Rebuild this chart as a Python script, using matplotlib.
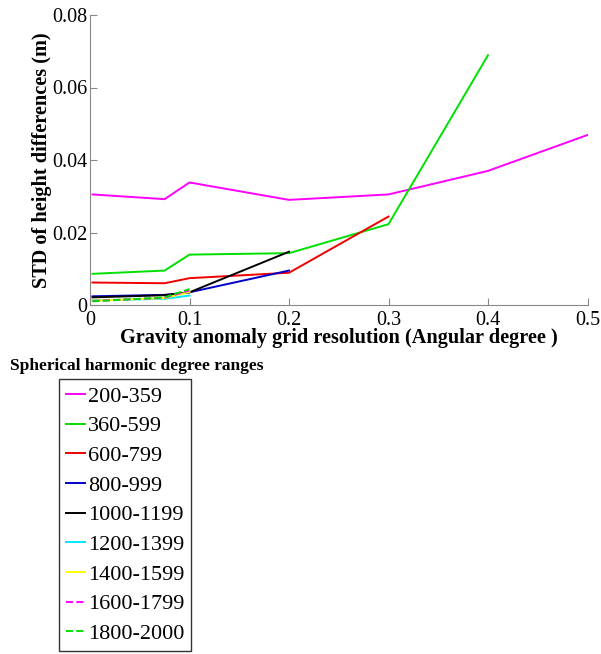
import numpy as np
import matplotlib
matplotlib.use("Agg")
import matplotlib.pyplot as plt

# grid resolution (deg) and STD of height differences (m) per degree range
res = [0.0025, 0.075, 0.1, 0.2, 0.3, 0.4, 0.5]

std_200_359 = [0.0305, 0.0292, 0.0338, 0.0290, 0.0305, 0.0370, 0.0469]
std_360_599 = [0.0086, 0.0095, 0.0139, 0.0143, 0.0223, 0.0689]
std_600_799 = [0.0062, 0.0060, 0.0074, 0.0089, 0.0244]
std_800_999 = [0.0024, 0.0028, 0.0035, 0.0095]
std_1000_1199 = [0.0021, 0.0027, 0.0035, 0.0147]
std_1200_1399 = [0.0013, 0.0017, 0.0026]
std_1400_1599 = [0.0012, 0.0019, 0.0036]
std_1600_1799 = [0.0011, 0.0020, 0.0040]
std_1800_2000 = [0.0010, 0.0021, 0.0044]

labels = ["200-359", "360-599", "600-799", "800-999", "1000-1199",
          "1200-1399", "1400-1599", "1600-1799", "1800-2000"]
series = [std_200_359, std_360_599, std_600_799, std_800_999, std_1000_1199,
          std_1200_1399, std_1400_1599, std_1600_1799, std_1800_2000]
colors = ["#ff00ff", "#00e000", "#ee0000", "#0000cc", "#000000",
          "#00e8ff", "#ffff00", "#ff00ff", "#00e000"]
styles = ["-", "-", "-", "-", "-", "-", "-", "--", "--"]

plt.rcParams["font.family"] = ["Liberation Serif", "DejaVu Serif"]

fig = plt.figure(figsize=(6.01, 6.54), dpi=100)
ax = fig.add_axes([90/601, 1-305/654, (587.5-90)/601, (305-15)/654])

for s, lab, c, ls in zip(series, labels, colors, styles):
    ax.plot(res[:len(s)], s, color=c, linestyle=ls, linewidth=1.4, label=lab)

ax.set_xlim(0, 0.5)
ax.set_ylim(0, 0.08)
ax.set_xticks([0, 0.1, 0.2, 0.3, 0.4, 0.5])
ax.set_xticklabels(["0", "0.1", "0.2", "0.3", "0.4", "0.5"])
ax.set_yticks([0, 0.02, 0.04, 0.06, 0.08])
ax.set_yticklabels(["0", "0.02", "0.04", "0.06", "0.08"])
ax.tick_params(direction="in", length=5, labelsize=14.5, color="#888888")
ax.tick_params(axis="x", pad=4)
ax.tick_params(axis="y", pad=2)
for side in ["top", "right"]:
    ax.spines[side].set_visible(False)
for side in ["left", "bottom"]:
    ax.spines[side].set_color("#888888")

ax.set_xlabel("Gravity anomaly grid resolution (Angular degree )",
              fontsize=14.6, fontweight="bold", labelpad=-1)
ax.set_ylabel("STD of height differences (m)", fontsize=14.6,
              fontweight="bold", labelpad=0)

fig.text(10/601, 1-366/654, "Spherical harmonic degree ranges",
         fontsize=12.5, fontweight="bold", va="center", ha="left")

leg = fig.legend(loc="upper left", bbox_to_anchor=(59/601, 1-379/654),
                 fontsize=16, frameon=True, fancybox=False, handlelength=0.85,
                 handletextpad=0.12, borderaxespad=0, labelspacing=0.41,
                 borderpad=0.32)
leg.get_frame().set_edgecolor("black")
leg.get_frame().set_linewidth(1.0)

plt.savefig("out.png", dpi=100)
